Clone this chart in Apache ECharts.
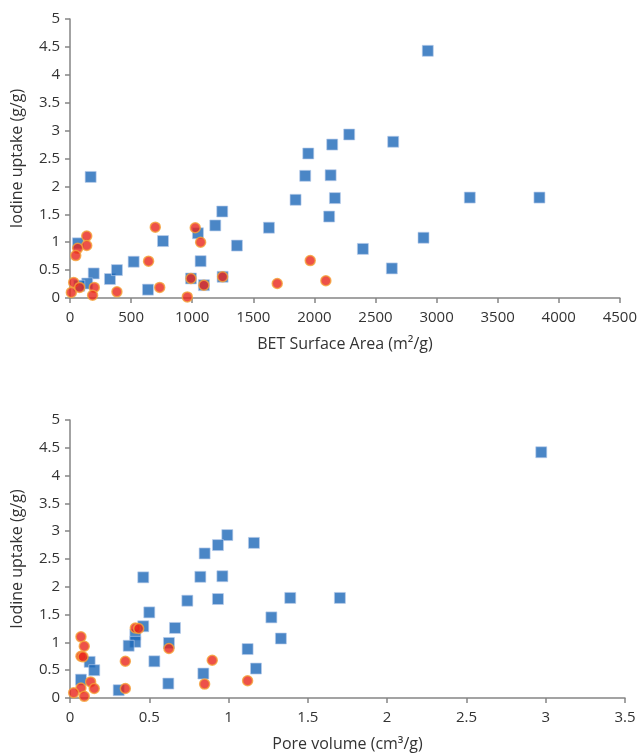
<!DOCTYPE html>
<html>
<head>
<meta charset="utf-8">
<script src="https://cdn.jsdelivr.net/npm/echarts@6/dist/echarts.min.js"></script>
<style>
html,body{margin:0;padding:0;background:#fff;}
#chart{width:640px;height:755px;}
</style>
</head>
<body>
<div id="chart"></div>
<script>
// Top panel: BET surface area (m2/g) vs iodine uptake (g/g)
var betBlue = [[169,2.17],[65,0.98],[194,0.44],[141,0.26],[76,0.22],[327,0.34],[384,0.50],[521,0.65],[638,0.15],[761,1.02],[990,0.35],[1047,1.16],[1069,0.66],[1096,0.23],[1189,1.30],[1246,1.55],[1249,0.38],[1366,0.94],[1628,1.26],[1846,1.76],[1925,2.19],[1950,2.59],[2121,1.46],[2133,2.20],[2146,2.75],[2168,1.79],[2285,2.93],[2928,4.43],[2645,2.80],[3272,1.80],[3842,1.80],[2893,1.08],[2397,0.88],[2634,0.53]];
var betRed = [[137,1.11],[137,0.94],[63,0.89],[47,0.76],[30,0.28],[11,0.10],[79,0.19],[199,0.19],[185,0.05],[384,0.11],[643,0.66],[698,1.27],[734,0.19],[960,0.02],[990,0.35],[1025,1.26],[1069,1.00],[1096,0.23],[1249,0.38],[1696,0.26],[1966,0.67],[2094,0.31]];
// Bottom panel: pore volume (cm3/g) vs iodine uptake (g/g)
var poreBlue = [[0.462,2.17],[0.992,2.93],[0.933,2.75],[0.849,2.60],[1.160,2.79],[0.822,2.18],[0.961,2.19],[0.740,1.75],[0.933,1.78],[1.389,1.80],[0.500,1.54],[1.270,1.45],[0.462,1.29],[0.662,1.26],[0.412,1.14],[0.412,1.01],[1.330,1.07],[0.370,0.94],[0.624,0.99],[1.120,0.88],[0.124,0.65],[0.532,0.66],[0.153,0.50],[1.173,0.53],[0.841,0.44],[0.069,0.33],[0.620,0.26],[0.307,0.14],[1.702,1.80],[2.972,4.42]];
var poreRed = [[0.069,1.10],[0.090,0.93],[0.069,0.75],[0.082,0.74],[0.412,1.26],[0.433,1.25],[0.349,0.66],[0.624,0.89],[0.897,0.68],[0.130,0.29],[0.153,0.17],[0.069,0.18],[0.023,0.095],[0.090,0.03],[0.349,0.17],[0.849,0.25],[1.120,0.31]];

var yTitle = 'Iodine uptake (g/g)';
var xTitleTop = 'BET Surface Area (m\u00B2/g)';
var xTitleBottom = 'Pore volume (cm\u00B3/g)';

var FONT = '"Open Sans"';
var TXT = '#333333';
var AX = '#858585';

function plain(v) { return String(v); }

function xAxis(gi, max, interval, name) {
  return {
    type: 'value', gridIndex: gi, min: 0, max: max, interval: interval,
    name: name, nameLocation: 'middle', nameGap: 38,
    nameTextStyle: {fontFamily: FONT, fontSize: 16, color: TXT},
    axisLine: {show: true, onZero: false, lineStyle: {color: AX, width: 1.5}},
    axisTick: {show: true, inside: false, length: 5, lineStyle: {color: AX, width: 1.5}},
    axisLabel: {fontFamily: FONT, fontSize: 15, color: TXT, margin: 12, formatter: plain},
    splitLine: {show: false}
  };
}
function yAxis(gi) {
  return {
    type: 'value', gridIndex: gi, min: 0, max: 5, interval: 0.5,
    name: yTitle, nameLocation: 'middle', nameGap: 45, nameRotate: 90,
    nameTextStyle: {fontFamily: FONT, fontSize: 16, color: TXT},
    axisLine: {show: true, lineStyle: {color: AX, width: 1.5}},
    axisTick: {show: true, inside: false, length: 5, lineStyle: {color: AX, width: 1.5}},
    axisLabel: {fontFamily: FONT, fontSize: 15, color: TXT, margin: 10, formatter: plain},
    splitLine: {show: false}
  };
}
var blueStyle = {color: '#1d68b8', borderColor: '#b9cdea', borderWidth: 0.8};
var redStyle = {color: '#e8261b', borderColor: '#f5a33a', borderWidth: 1.5};

var chart = echarts.init(document.getElementById('chart'), null, {renderer: 'canvas'});
chart.setOption({
  backgroundColor: '#fff',
  animation: false,
  grid: [
    {left: 70, top: 19, width: 550, height: 279},
    {left: 70, top: 420, width: 555, height: 278}
  ],
  xAxis: [xAxis(0, 4500, 500, xTitleTop), xAxis(1, 3.5, 0.5, xTitleBottom)],
  yAxis: [yAxis(0), yAxis(1)],
  series: [
    {type: 'scatter', xAxisIndex: 0, yAxisIndex: 0, symbol: 'rect', symbolSize: 11, data: betBlue, itemStyle: blueStyle},
    {type: 'scatter', xAxisIndex: 0, yAxisIndex: 0, symbol: 'circle', symbolSize: 10, data: betRed, itemStyle: redStyle},
    {type: 'scatter', xAxisIndex: 1, yAxisIndex: 1, symbol: 'rect', symbolSize: 11, data: poreBlue, itemStyle: blueStyle},
    {type: 'scatter', xAxisIndex: 1, yAxisIndex: 1, symbol: 'circle', symbolSize: 10, data: poreRed, itemStyle: redStyle}
  ]
});
</script>
</body>
</html>
